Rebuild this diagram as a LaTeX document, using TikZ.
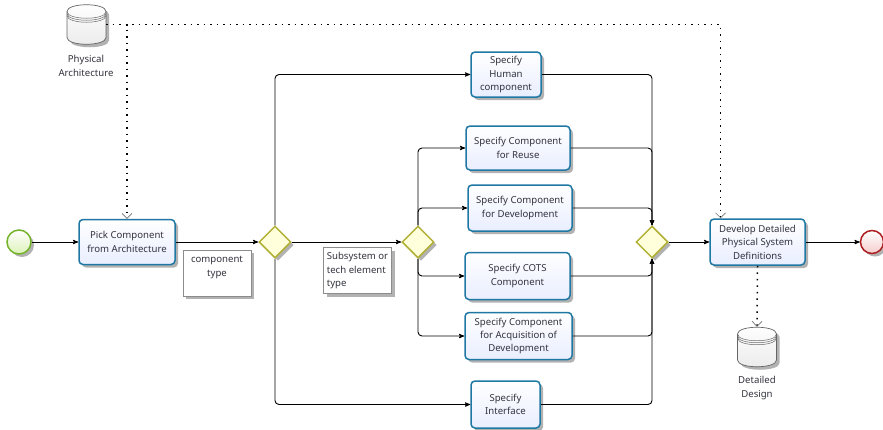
\documentclass[tikz,border=0pt]{standalone}
\usepackage{fontspec}
\setmainfont{Noto Sans}
\usetikzlibrary{shapes.geometric}
\usetikzlibrary{arrows}
\usetikzlibrary{arrows.meta}
\usetikzlibrary{shadows}
\usetikzlibrary{backgrounds}
\definecolor{taskline}{HTML}{1F78A4}
\definecolor{taskfill}{HTML}{E9EEFF}
\definecolor{gateline}{HTML}{B2B034}
\definecolor{gatefill}{HTML}{FFFFDC}
\definecolor{startline}{HTML}{74B32A}
\definecolor{startfill}{HTML}{DDF2B8}
\definecolor{endline}{HTML}{AE1F22}
\definecolor{endfill}{HTML}{F6CDCD}
\definecolor{inktext}{HTML}{33333F}
\tikzset{
	soft shadow/.style={drop shadow={shadow xshift=3pt,shadow yshift=-3pt,opacity=.3,fill=black}},
	task node/.style={rectangle,rounded corners=4pt,draw=taskline,line width=1.5pt,top color=white,bottom color=taskfill,
		soft shadow,align=center,text=inktext,font=\fontsize{9.6}{13.4}\selectfont,inner sep=1pt},
	gate node/.style={diamond,aspect=1,draw=gateline,line width=1.5pt,fill=gatefill,minimum size=32pt,inner sep=0pt,soft shadow},
	start node/.style={circle,draw=startline,line width=1.5pt,top color=white,bottom color=startfill,minimum size=24pt,inner sep=0pt,soft shadow},
	end node/.style={circle,draw=endline,line width=1.5pt,top color=white,bottom color=endfill,minimum size=23pt,inner sep=0pt,soft shadow},
	note node/.style={rectangle,draw=black!45,fill=white,soft shadow,text=inktext,font=\fontsize{9.6}{13.6}\selectfont,inner sep=1pt,minimum height=46pt},
	store node/.style={rectangle,minimum width=39pt,minimum height=40pt,inner sep=0pt},
	store text/.style={align=center,text=inktext,font=\fontsize{9.6}{13.4}\selectfont,inner sep=0pt},
	flow/.style={draw=black,line width=.9pt,rounded corners=4pt,->,>=stealth'},
	data/.style={draw=black,line width=1.5pt,dash pattern=on 1.5pt off 5pt,-{Straight Barb[width=10pt,length=5pt,color=black!55,line width=.7pt]}},
	flow shade/.style={transform canvas={shift={(8pt,-8pt)}},
		flow/.style={draw=black!6,line width=.9pt,rounded corners=4pt,-{Stealth[length=7pt,width=8pt,color=black!22]}},
		data/.style={draw=black!5,line width=.9pt,rounded corners=4pt}}
}
\newcommand{\flowlines}{
	\draw[flow] (start) -- (pick);
	\draw[flow] (pick) -- (gwtype);
	\draw[flow] (gwtype.north) |- (human);
	\draw[flow] (gwtype.south) |- (interface);
	\draw[flow] (gwtype) -- (gwsub);
	\draw[flow] (gwsub.north) |- (reuse);
	\draw[flow] (gwsub.north) |- (develop);
	\draw[flow] (gwsub.south) |- (cots);
	\draw[flow] (gwsub.south) |- (acquire);
	\draw[flow] (human) -| (gwjoin.north);
	\draw[flow] (reuse) -| (gwjoin.north);
	\draw[flow] (develop) -| (gwjoin.north);
	\draw[flow] (cots) -| (gwjoin.south);
	\draw[flow] (acquire) -| (gwjoin.south);
	\draw[flow] (interface) -| (gwjoin.south);
	\draw[flow] (gwjoin) -- (detail);
	\draw[flow] (detail) -- (end);
	\draw[data] (archstore.east) -| (pick.north);
	\draw[data] (archstore.east) -| ([xshift=-37pt]detail.north);
	\draw[data] (detail.south) -- (designstore.north);
}
\newcommand{\datastore}[2]{
	\node[store node] (#1) at (#2) {};
	\begin{scope}[shift={(#1.center)}]
		\draw[draw=black!60,line width=.7pt,top color=white,bottom color=black!8,soft shadow] (-19.5,-13) -- (-19.5,13) .. controls (-19.5,22) and (19.5,22) .. (19.5,13)
			-- (19.5,-13) .. controls (19.5,-22) and (-19.5,-22) .. (-19.5,-13) -- cycle;
		\foreach \d in {0,2,4}
			\draw[draw=black!60,line width=.5pt] (-19.5,-13+\d) .. controls (-19.5,-4+\d) and (19.5,-4+\d) .. (19.5,-13+\d);
	\end{scope}
}
\begin{document}
\begin{tikzpicture}[x=1pt,y=-1pt]
	\useasboundingbox[fill=white] (0,0) rectangle (883,429);
	\node[start node] (start) at (19,242) {};
	\node[task node,minimum width=96pt,minimum height=45pt] (pick) at (127,242) {Pick Component\\from Architecture};
	\node[gate node] (gwtype) at (275,242) {};
	\node[note node,minimum width=68pt,align=center] (typenote) at (217,273) {component\\type\\\mbox{}};
	\node[gate node] (gwsub) at (418,242) {};
	\node[note node,minimum width=68pt,align=left] (subnote) at (357.5,270.5) {Subsystem or\\tech element\\type};
	\node[task node,minimum width=70pt,minimum height=45pt] (human) at (506,74.5) {Specify\\Human\\component};
	\node[task node,minimum width=104pt,minimum height=44pt] (reuse) at (518,148) {Specify Component\\for Reuse};
	\node[task node,minimum width=104pt,minimum height=46pt] (develop) at (520,208) {Specify Component\\for Development};
	\node[task node,minimum width=105pt,minimum height=47pt] (cots) at (517.5,276) {Specify COTS\\Component};
	\node[task node,minimum width=107pt,minimum height=47pt] (acquire) at (518.5,336) {Specify Component\\for Acquisition of\\Development};
	\node[task node,minimum width=69pt,minimum height=47pt] (interface) at (505.5,404.5) {Specify\\Interface};
	\node[gate node] (gwjoin) at (652,242) {};
	\node[task node,minimum width=95pt,minimum height=46pt] (detail) at (757.5,242) {Develop Detailed\\Physical System\\Definitions};
	\node[end node] (end) at (872,242) {};
	\datastore{archstore}{86.5,24.5}
	\node[store text] (archtext) at (86,66) {Physical\\Architecture};
	\datastore{designstore}{757,347}
	\node[store text] (designtext) at (757,388) {Detailed\\Design};
	\flowlines
	\begin{scope}[on background layer,flow shade]
		\flowlines
	\end{scope}
\end{tikzpicture}
\end{document}
